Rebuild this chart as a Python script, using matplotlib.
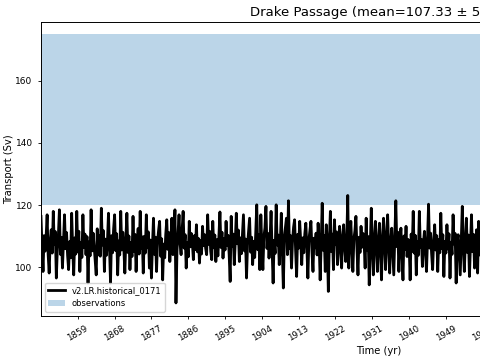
'''Drake Passage transport time series vs observational range'''
import numpy as np
import matplotlib
matplotlib.use("Agg")
import matplotlib.pyplot as plt

# Quarterly transport (Sv) from 1850 on (one row per year)
transport = [
    116.4, 106.5, 98.7, 110.2,   # 1850
    105.2, 109.8, 116.9, 104.1,
    98.2, 108.4, 112.1, 104.6,
    118.0, 107.3, 111.5, 96.6,
    105.9, 110.4, 118.5, 104.2,
    109.6, 99.8, 108.1, 116.9,   # 1855
    106.0, 111.2, 103.9, 99.3,
    108.3, 103.1, 117.4, 106.2,
    97.6, 109.5, 104.3, 118.0,
    105.0, 111.6, 98.7, 107.9,
    103.2, 116.9, 106.4, 110.7,  # 1860
    104.1, 109.9, 95.0, 108.2,
    103.7, 118.5, 105.3, 111.0,
    106.8, 102.2, 97.6, 112.4,
    104.0, 110.3, 103.6, 119.0,
    107.2, 111.8, 98.7, 109.1,   # 1865
    103.9, 108.6, 117.4, 106.5,
    95.0, 110.2, 104.7, 112.3,
    116.9, 105.4, 110.8, 97.6,
    108.5, 104.0, 118.0, 105.6,
    111.3, 106.2, 98.2, 109.4,   # 1870
    117.4, 104.8, 110.1, 99.3,
    108.0, 103.5, 116.4, 105.2,
    110.6, 98.7, 107.7, 112.5,
    104.3, 118.0, 106.1, 109.8,
    98.2, 110.0, 104.6, 116.9,   # 1875
    106.3, 111.4, 99.8, 108.8,
    96.6, 106.9, 115.8, 104.2,
    109.7, 98.7, 108.4, 111.9,
    114.8, 103.6, 109.2, 96.0,
    107.5, 103.1, 110.6, 115.3,  # 1880
    105.8, 111.2, 101.9, 108.9,
    115.8, 104.1, 109.6, 118.5,
    88.6, 105.3, 110.9, 116.9,
    107.8, 104.1, 111.7, 118.0,
    106.2, 110.5, 99.8, 108.0,   # 1885
    103.4, 114.8, 106.6, 110.9,
    108.1, 102.5, 110.2, 105.7,
    113.7, 105.0, 109.3, 101.4,
    108.6, 104.3, 113.2, 107.0,
    110.5, 106.2, 104.1, 116.9,  # 1890
    107.4, 111.6, 105.1, 102.5,
    114.8, 106.3, 110.4, 101.9,
    108.9, 103.7, 110.1, 117.8,
    106.4, 111.3, 103.0, 109.2,
    105.6, 114.8, 107.1, 110.3,  # 1895
    104.2, 95.5, 116.4, 106.8,
    110.7, 100.9, 108.2, 117.4,
    107.6, 112.0, 101.9, 109.5,
    104.4, 110.8, 116.9, 105.3,
    109.1, 96.6, 107.3, 111.5,   # 1900
    115.8, 104.9, 109.7, 100.9,
    108.4, 103.2, 111.1, 120.1,
    105.7, 110.6, 99.3, 116.9,
    106.5, 99.3, 109.8, 112.7,
    119.6, 106.1, 110.9, 103.0,  # 1905
    109.3, 118.0, 105.8, 95.0,
    108.7, 104.5, 120.1, 107.2,
    110.4, 100.9, 108.0, 117.4,
    105.9, 93.4, 109.6, 112.8,
    115.8, 104.1, 121.4, 106.0,  # 1910
    110.2, 99.8, 108.7, 112.9,
    115.3, 105.4, 97.1, 110.6,
    106.2, 114.8, 108.3, 100.9,
    109.5, 104.7, 110.8, 114.2,
    106.7, 96.6, 108.9, 111.7,   # 1915
    114.8, 105.2, 98.7, 109.4,
    106.3, 111.0, 104.0, 114.2,
    108.1, 96.0, 107.5, 120.6,
    105.5, 110.3, 98.7, 113.7,
    107.9, 92.3, 108.6, 118.0,   # 1920
    105.1, 110.7, 99.3, 115.3,
    107.3, 111.4, 100.9, 108.2,
    113.2, 106.0, 99.8, 110.1,
    113.7, 106.4, 101.9, 108.5,
    123.1, 99.8, 108.0, 114.8,   # 1925
    106.3, 98.7, 109.1, 111.8,
    116.4, 106.0, 97.6, 109.7,
    104.8, 113.2, 106.5, 110.9,
    107.8, 99.8, 115.8, 105.6,
    109.9, 94.4, 107.2, 119.0,   # 1930
    106.4, 97.6, 108.9, 114.8,
    106.1, 98.7, 108.8, 114.2,
    105.3, 96.0, 109.4, 115.8,
    107.0, 99.3, 110.2, 116.9,
    106.5, 98.2, 108.3, 112.6,   # 1935
    104.9, 97.6, 109.8, 121.4,
    106.7, 111.3, 98.7, 108.5,
    112.6, 104.4, 96.0, 110.1,
    105.8, 113.2, 103.5, 109.0,
    107.6, 96.0, 110.7, 105.2,   # 1940
    118.0, 104.6, 110.3, 97.6,
    108.2, 103.9, 118.0, 106.4,
    109.0, 100.3, 107.8, 111.6,
    105.5, 98.7, 108.7, 120.3,
    106.2, 111.0, 104.4, 99.3,   # 1945
    108.4, 113.7, 105.6, 110.2,
    98.7, 108.9, 104.7, 117.4,
    106.0, 110.5, 97.1, 108.3,
    104.6, 113.7, 105.9, 110.8,
    96.6, 108.1, 104.2, 116.9,   # 1950
    107.5, 110.9, 95.0, 108.6,
    110.5, 104.3, 97.6, 109.2,
    119.6, 106.7, 98.7, 108.0,
    115.8, 104.8, 110.4, 97.1,
    107.3, 116.9, 105.1, 110.6,  # 1955
    99.8, 107.4, 112.1, 98.2,
    114.8, 104.0, 109.3, 106.1,
    112.0, 103.5, 108.7, 105.0,
]
start_year = 1850
samples_per_year = 4

# Observational range of the transport (Sv)
obs_low = 120
obs_high = 175

run_name = "v2.LR.historical_0171"
title = "Drake Passage (mean=107.33 \u00b1 5.12)"
year_ticks = list(range(1859, 2015, 9))

time = start_year + np.arange(len(transport)) / samples_per_year

fig = plt.figure(figsize=(4.8, 3.6), dpi=100)
# axes run past the right edge of the figure, as in the reference
ax = fig.add_axes([0.0854, 0.123, 1.406, 0.816])

ax.plot(time, transport, color="black", linewidth=2, label=run_name)
ax.axhspan(obs_low, obs_high, color="C0", alpha=0.3, linewidth=0,
           label="observations")

ax.set_xlim(1850, 2015)
ax.set_ylim(84.5, 178.8)
ax.set_xticks(year_ticks)
ax.set_xticklabels([str(y) for y in year_ticks], rotation=30, fontsize=6.3)
ax.set_yticks([100, 120, 140, 160])
ax.tick_params(axis="y", labelsize=6.5)
ax.tick_params(length=2.5, width=0.6)
for spine in ax.spines.values():
    spine.set_linewidth(0.7)

ax.set_xlabel("Time (yr)", fontsize=7.2, labelpad=2)
ax.set_ylabel("Transport (Sv)", fontsize=7.2, labelpad=1)
ax.set_title(title, fontsize=9.5, pad=4.5)
ax.legend(loc="lower left", fontsize=6)

fig.savefig("out.png", dpi=100)
